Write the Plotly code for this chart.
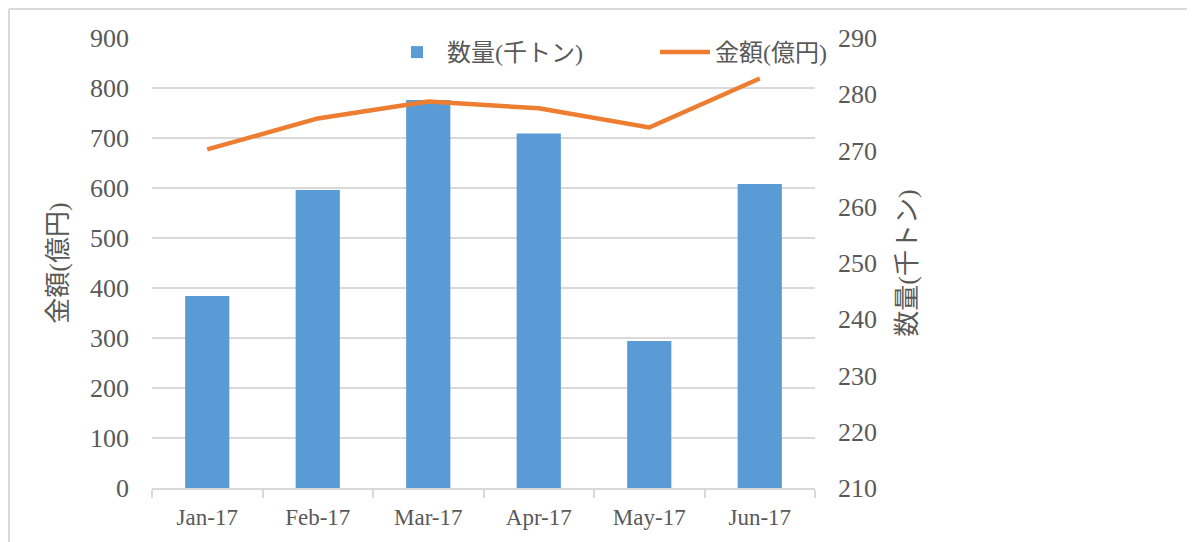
import plotly.graph_objects as go

months = ["Jan-17", "Feb-17", "Mar-17", "Apr-17", "May-17", "Jun-17"]
quantity = [384, 596, 776, 709, 294, 608]          # 数量(千トン) bars
amount = [270.2, 275.7, 278.7, 277.5, 274.1, 282.8]  # 金額(億円) line

left_ticks = list(range(0, 901, 100))
right_ticks = list(range(210, 291, 10))

FONT = "Liberation Serif, Noto Sans CJK JP, serif"
GRAY = "#595959"

fig = go.Figure()
fig.add_trace(go.Bar(
    x=months, y=quantity, name="数量(千トン)",
    marker=dict(color="#5B9BD5", line=dict(width=0)),
    width=0.4, yaxis="y",
))
fig.add_trace(go.Scatter(
    x=months, y=amount, name="金額(億円)", mode="lines",
    line=dict(color="#ED7D31", width=4.5), yaxis="y2",
))

OFF = 8  # page body margin
L, R, T, B = 152 - OFF, 815 - OFF, 38 - OFF, 488 - OFF
W, H = 1195 - OFF, 542 - OFF

def px_x(p):
    return (p - OFF - L) / (R - L)

def px_y(p):
    return (B - (p - OFF)) / (B - T)

fig.update_layout(
    width=W, height=H,
    margin=dict(l=L, r=W - R, t=T, b=H - B, pad=0),
    paper_bgcolor="white", plot_bgcolor="white",
    font=dict(family=FONT, color=GRAY, size=22),
    showlegend=True,
    legend=dict(
        orientation="h", x=px_x(387), xanchor="left", y=px_y(30), yanchor="top",
        bgcolor="rgba(0,0,0,0)", font=dict(size=24, color=GRAY, family=FONT),
        entrywidth=203, itemwidth=50,
    ),
    xaxis=dict(
        type="category", showgrid=False, showline=True, linecolor="#d9d9d9", linewidth=1.5,
        ticks="outside", tickson="boundaries", ticklen=8, tickcolor="#d9d9d9", tickwidth=1.5,
        tickfont=dict(size=23, color=GRAY, family=FONT), ticklabelstandoff=8,
    ),
    yaxis=dict(
        title=dict(text="金額(億円)", font=dict(size=26, color=GRAY, family=FONT), standoff=14),
        range=[0, 900], tickvals=left_ticks, showgrid=True, gridcolor="#d9d9d9", gridwidth=1.5,
        zeroline=False, showline=False, ticks="", ticklabelstandoff=22,
        tickfont=dict(size=26, color=GRAY, family=FONT),
    ),
    yaxis2=dict(
        title=dict(text="数量(千トン)", font=dict(size=26, color=GRAY, family=FONT), standoff=21),
        range=[210, 290], tickvals=right_ticks, overlaying="y", side="right",
        showgrid=False, zeroline=False, showline=False, ticks="", ticklabelstandoff=22,
        tickfont=dict(size=26, color=GRAY, family=FONT),
    ),
    shapes=[
        dict(type="line", xref="paper", yref="paper", x0=px_x(9), x1=px_x(1200),
             y0=px_y(9), y1=px_y(9), line=dict(color="#d9d9d9", width=2), layer="below"),
        dict(type="line", xref="paper", yref="paper", x0=px_x(9), x1=px_x(9),
             y0=px_y(9), y1=px_y(550), line=dict(color="#d9d9d9", width=2), layer="below"),
    ],
)

fig.write_html("out.html")
